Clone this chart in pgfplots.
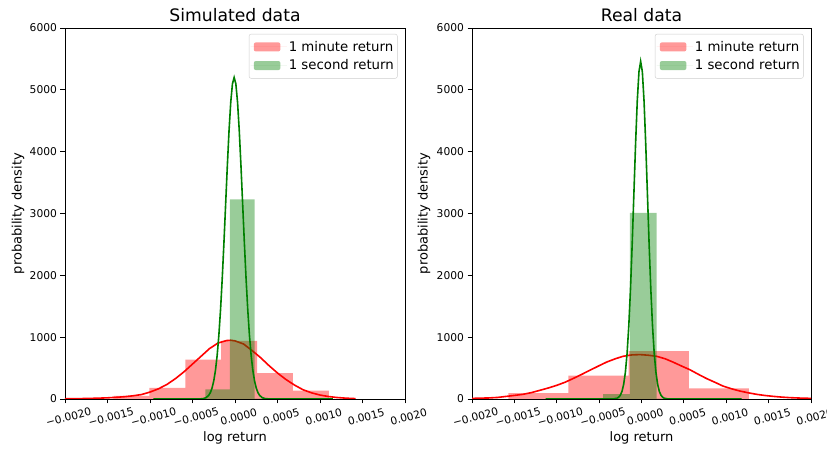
\documentclass[border=0pt]{standalone}
\usepackage{fontspec}
\setmainfont{DejaVu Sans}
\usepackage{pgfplots}
\pgfplotsset{compat=1.18}
\definecolor{mplgreen}{HTML}{008000}
\definecolor{legframe}{HTML}{CCCCCC}
\pgfplotsset{
  histax/.style={
    scale only axis, height=371pt,
    xmin=-0.002, xmax=0.002, ymin=0, ymax=6000,
    axis line style={line width=0.8pt},
    tick align=outside, tick pos=left, major tick length=4.5pt,
    tick style={black, line width=0.8pt},
    xtick={-0.002,-0.0015,-0.001,-0.0005,0,0.0005,0.001,0.0015,0.002},
    xticklabels={−0.0020,−0.0015,−0.0010,−0.0005,0.0000,0.0005,0.0010,0.0015,0.0020},
    ytick={0,1000,2000,3000,4000,5000,6000},
    yticklabels={0,1000,2000,3000,4000,5000,6000},
    scaled ticks=false,
    tick label style={font=\fontsize{10.7}{12}\selectfont},
    xticklabel style={rotate=15, anchor=center, yshift=-14pt},
    label style={font=\fontsize{13}{15}\selectfont},
    title style={font=\fontsize{17.2}{20}\selectfont, at={(axis description cs:0.5,1.019)}, anchor=center},
    xlabel style={at={(axis description cs:0.5,-0.105)}, anchor=center},
    legend style={at={(0.978,0.984)}, anchor=north east, draw=legframe, rounded corners=2pt,
      fill=white, font=\fontsize{13.3}{15}\selectfont, inner xsep=1.5pt, inner ysep=5pt, row sep=3pt},
    legend cell align=left,
  },
  redleg/.style={legend image code/.code={\path (0pt,0pt) -- (36.2pt,0pt);\fill[red, fill opacity=0.4] (3.2pt,-4.5pt) rectangle (29.8pt,4.5pt);}},
  greenleg/.style={legend image code/.code={\path (0pt,0pt) -- (36.2pt,0pt);\fill[mplgreen, fill opacity=0.4] (3.2pt,-4.5pt) rectangle (29.8pt,4.5pt);}},
}
\begin{document}
\begin{tikzpicture}
\useasboundingbox (0,0) rectangle (827pt,452pt);
% ---------------- Simulated data ----------------
\begin{axis}[histax, width=340pt, at={(65pt,53pt)}, anchor=south west,
  title={Simulated data}, xlabel={log return}, ylabel={probability density},
  ylabel style={at={(axis description cs:-0.138,0.5)}, anchor=center}]
\addplot[ybar interval, fill=red, fill opacity=0.4, draw=none, redleg] coordinates {
(-0.001428,50) (-0.001006,178) (-0.000584,636) (-0.000162,940) (0.000260,420) (0.000682,135) (0.001104,0)};
\addlegendentry{1 minute return}
\addplot[red, line width=1.6pt, forget plot] coordinates {
(-0.0020,4) (-0.0019,5) (-0.0018,7) (-0.0017,10) (-0.0016,14) (-0.0015,19) (-0.0014,27) (-0.0013,37)
(-0.0012,52) (-0.0011,72) (-0.0010,112) (-0.0009,165) (-0.0008,236) (-0.0007,330) (-0.0006,440)
(-0.0005,565) (-0.0004,690) (-0.0003,815) (-0.0002,905) (-0.0001,945) (-0.00005,950) (0.0,940)
(0.0001,890) (0.0002,785) (0.0003,670) (0.0004,540) (0.0005,420) (0.0006,315) (0.0007,225)
(0.0008,150) (0.0009,100) (0.0010,64) (0.0011,40) (0.0012,24) (0.0013,14) (0.00142,6)};
\addplot[ybar interval, fill=mplgreen, fill opacity=0.4, draw=none, greenleg] coordinates {
(-0.00093,4) (-0.00064,6) (-0.00035,155) (-0.00006,3230) (0.00023,6) (0.00052,4) (0.00081,2) (0.00110,0)};
\addlegendentry{1 second return}
\addplot[mplgreen, line width=1.6pt, forget plot] coordinates {
(-0.00096,0.5) (-0.00051,0.5) (-0.00041,2) (-0.00037,8) (-0.00034,22) (-0.00031,58) (-0.00029,103)
(-0.00027,177) (-0.00025,292) (-0.00023,462) (-0.00021,704) (-0.00019,1029) (-0.00017,1446)
(-0.00015,1952) (-0.00013,2531) (-0.00011,3154) (-0.00009,3777) (-0.00007,4343) (-0.00005,4800)
(-0.00003,5097) (-0.00001,5200) (0.00001,5097) (0.00003,4800) (0.00005,4343) (0.00007,3777)
(0.00009,3154) (0.00011,2531) (0.00013,1952) (0.00015,1446) (0.00017,1029) (0.00019,704)
(0.00021,462) (0.00023,292) (0.00025,177) (0.00027,103) (0.00029,58) (0.00032,22) (0.00035,8)
(0.00039,2) (0.00049,0.5) (0.00115,0.5)};
\end{axis}
% ---------------- Real data ----------------
\begin{axis}[histax, width=339pt, at={(472pt,53pt)}, anchor=south west,
  title={Real data}, xlabel={log return}, ylabel={probability density},
  ylabel style={at={(axis description cs:-0.1416,0.5)}, anchor=center}]
\addplot[ybar interval, fill=red, fill opacity=0.4, draw=none, redleg] coordinates {
(-0.001572,95) (-0.000862,380) (-0.000152,773) (0.000558,172) (0.001268,0)};
\addlegendentry{1 minute return}
\addplot[red, line width=1.6pt, forget plot] coordinates {
(-0.0020,10) (-0.0019,14) (-0.0018,17) (-0.0017,25) (-0.00159,43) (-0.0015,58) (-0.0014,75)
(-0.0013,103) (-0.0012,140) (-0.0011,178) (-0.0010,221) (-0.0009,272) (-0.00081,329) (-0.00071,395)
(-0.00061,464) (-0.00051,532) (-0.00041,598) (-0.00031,650) (-0.00022,690) (-0.00012,712)
(-0.00002,718) (0.00008,708) (0.00018,690) (0.00028,650) (0.00037,598) (0.00047,535) (0.00057,474)
(0.00067,400) (0.00077,329) (0.00087,268) (0.00096,210) (0.00106,166) (0.00116,129) (0.00126,100)
(0.00136,75) (0.00145,58) (0.00155,43) (0.00165,31) (0.00175,22) (0.00187,15) (0.0020,10)};
\addplot[ybar interval, fill=mplgreen, fill opacity=0.4, draw=none, greenleg] coordinates {
(-0.001083,3) (-0.000768,6) (-0.000453,80) (-0.000138,3010) (0.000177,6) (0.000492,3) (0.000807,2) (0.001122,0)};
\addlegendentry{1 second return}
\addplot[mplgreen, line width=1.6pt, forget plot] coordinates {
(-0.00113,0.5) (-0.00045,0.5) (-0.00041,1) (-0.00033,2) (-0.00029,12) (-0.00027,28) (-0.00025,61)
(-0.00023,124) (-0.00021,240) (-0.00019,435) (-0.00017,739) (-0.00015,1181) (-0.00013,1773)
(-0.00011,2499) (-0.00009,3312) (-0.00007,4121) (-0.00005,4819) (-0.00003,5292) (-0.00001,5460)
(0.00001,5292) (0.00003,4819) (0.00005,4121) (0.00007,3312) (0.00009,2499) (0.00011,1773)
(0.00013,1181) (0.00015,739) (0.00017,435) (0.00019,240) (0.00021,124) (0.00023,61) (0.00025,28)
(0.00027,12) (0.00031,2) (0.00039,0.5) (0.00118,0.5)};
\end{axis}
\end{tikzpicture}
\end{document}
